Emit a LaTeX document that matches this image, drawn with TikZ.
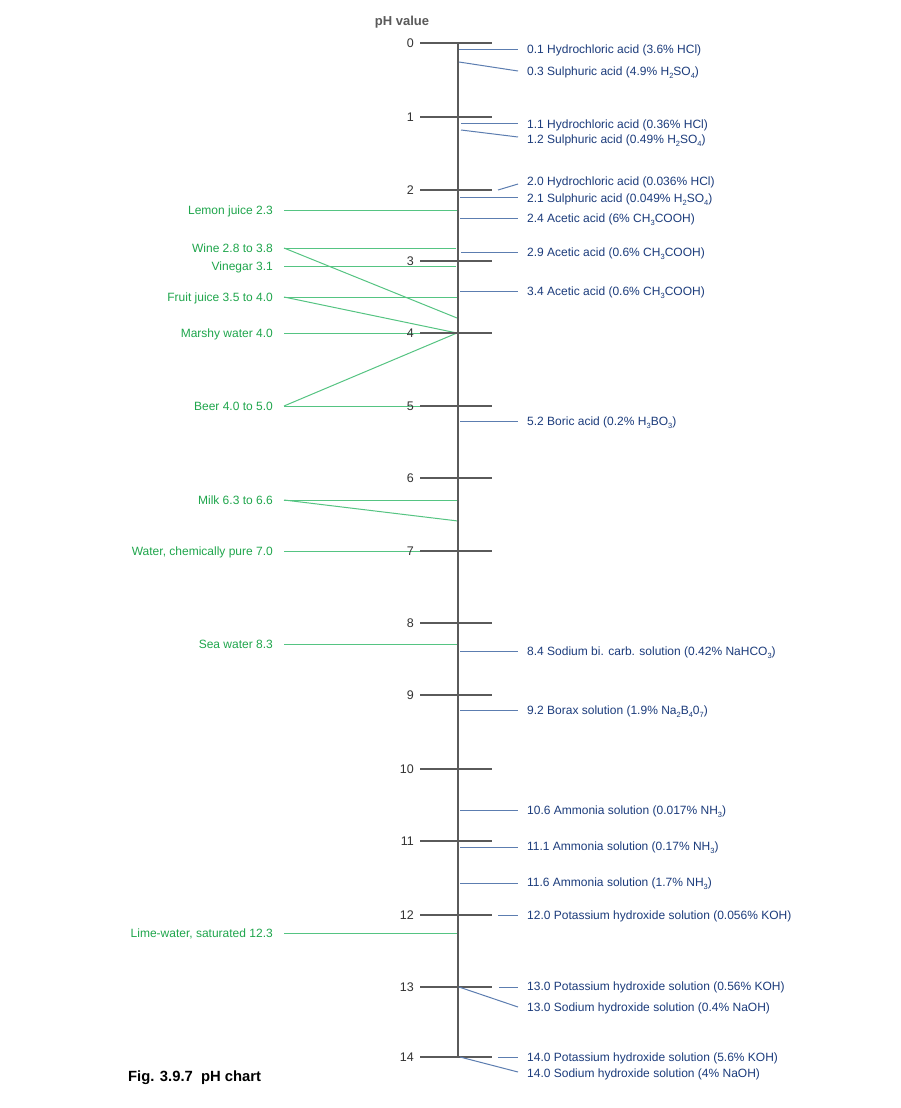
\documentclass[tikz,border=0pt]{standalone}
\usepackage{fontspec}
\setmainfont{Liberation Sans}
\definecolor{bluetxt}{HTML}{1C3C7C}
\definecolor{blueln}{HTML}{5C7DB0}
\definecolor{greentxt}{HTML}{1FA64C}
\definecolor{greenln}{HTML}{55C482}
\definecolor{axisgray}{HTML}{5A5A5A}
\definecolor{numgray}{HTML}{333333}
\newcommand\sbs[1]{\raisebox{-0.45ex}{\fontsize{7.5}{8}\selectfont #1}}
\begin{document}
\begin{tikzpicture}[x=1pt,y=-1pt,
  lab/.style={inner sep=0pt, text height=8.7pt, text depth=0pt, font=\fontsize{12}{14}\selectfont},
  acid/.style={lab, anchor=west, text=bluetxt},
  food/.style={lab, anchor=east, text=greentxt},
  num/.style={lab, anchor=east, text=numgray, font=\fontsize{12.5}{15}\selectfont},
  bline/.style={draw=blueln, line width=1pt},
  gline/.style={draw=greenln, line width=1pt},
  axisline/.style={draw=axisgray, line width=1.8pt},
  tickline/.style={draw=axisgray, line width=1.8pt}]
\useasboundingbox (0,0) rectangle (900,1108);
\fill[white] (0,0) rectangle (900,1108);

% ---------------- green (food) labels and connectors
\node[food] (lemon) at (273,210) {Lemon juice 2.3};
\node[food] (wine) at (273,248) {Wine 2.8 to 3.8};
\node[food] (vinegar) at (273,266) {Vinegar 3.1};
\node[food] (fruit) at (273,297) {Fruit juice 3.5 to 4.0};
\node[food] (marsh) at (273,333) {Marshy water 4.0};
\node[food] (beer) at (273,406) {Beer 4.0 to 5.0};
\node[food] (milk) at (273,500) {Milk 6.3 to 6.6};
\node[food] (water) at (273,551) {Water, chemically pure 7.0};
\node[food] (sea) at (273,644) {Sea water 8.3};
\node[food] (lime) at (273,933) {Lime-water, saturated 12.3};

\coordinate (gL23) at (457,210);
\coordinate (gL28) at (456,248);
\coordinate (gL38) at (457,318);
\coordinate (gL31) at (456,266);
\coordinate (gL35) at (457,297);
\coordinate (gL40) at (457,333);
\coordinate (gL50) at (457,406);
\coordinate (gL63) at (458,500);
\coordinate (gL66) at (458,521);
\coordinate (gL70) at (458,551);
\coordinate (gL83) at (457,644);
\coordinate (gL123) at (457,933);

\draw[gline] ([xshift=11pt]lemon.east) -- (gL23);
\draw[gline] ([xshift=11pt]wine.east) -- (gL28);
\draw[gline] ([xshift=11pt]wine.east) -- (gL38);
\draw[gline] ([xshift=11pt]vinegar.east) -- (gL31);
\draw[gline] ([xshift=11pt]fruit.east) -- (gL35);
\draw[gline] ([xshift=11pt]fruit.east) -- (gL40);
\draw[gline] ([xshift=11pt]marsh.east) -- (gL40);
\draw[gline] ([xshift=11pt]beer.east) -- (gL40);
\draw[gline] ([xshift=11pt]beer.east) -- (gL50);
\draw[gline] ([xshift=11pt]milk.east) -- (gL63);
\draw[gline] ([xshift=11pt]milk.east) -- (gL66);
\draw[gline] ([xshift=11pt]water.east) -- (gL70);
\draw[gline] ([xshift=11pt]sea.east) -- (gL83);
\draw[gline] ([xshift=11pt]lime.east) -- (gL123);

% ---------------- axis and ticks
\node[font=\bfseries\fontsize{13}{15}\selectfont, text=axisgray, inner sep=0pt] (title) at (402,22) {pH value};
\coordinate (top) at (458,43);
\coordinate (bottom) at (458,1057);
\draw[axisline] (top) -- (bottom);
\foreach \v/\y in {0/43,1/117,2/190,3/261,4/333,5/406,6/478,7/551,8/623,9/695,10/769,11/841,12/915,13/987,14/1057}{
  \coordinate (tl\v) at (420,\y);
  \coordinate (tr\v) at (492,\y);
  \draw[tickline] (tl\v) -- (tr\v);
  \node[num] (n\v) at (414,\y) {\v};
}

% ---------------- blue (acid/base) labels and connectors
\node[acid] (a01) at (527,49) {0.1 Hydrochloric acid (3.6\% HCl)};
\node[acid] (a03) at (527,71) {0.3 Sulphuric acid (4.9\% H\sbs{2}SO\sbs{4})};
\node[acid] (a11) at (527,124) {1.1 Hydrochloric acid (0.36\% HCl)};
\node[acid] (a12) at (527,139) {1.2 Sulphuric acid (0.49\% H\sbs{2}SO\sbs{4})};
\node[acid] (a20) at (527,181) {2.0 Hydrochloric acid (0.036\% HCl)};
\node[acid] (a21) at (527,198) {2.1 Sulphuric acid (0.049\% H\sbs{2}SO\sbs{4})};
\node[acid] (a24) at (527,218) {2.4 Acetic acid (6\% CH\sbs{3}COOH)};
\node[acid] (a29) at (527,252) {2.9 Acetic acid (0.6\% CH\sbs{3}COOH)};
\node[acid] (a34) at (527,291) {3.4 Acetic acid (0.6\% CH\sbs{3}COOH)};
\node[acid] (a52) at (527,421) {5.2 Boric acid (0.2\% H\sbs{3}BO\sbs{3})};
\node[acid] (a84) at (527,651) {8.4 Sodium bi. carb. solution (0.42\% NaHCO\sbs{3})};
\node[acid] (a92) at (527,710) {9.2 Borax solution (1.9\% Na\sbs{2}B\sbs{4}0\sbs{7})};
\node[acid] (a106) at (527,810) {10.6 Ammonia solution (0.017\% NH\sbs{3})};
\node[acid] (a111) at (527,846) {11.1 Ammonia solution (0.17\% NH\sbs{3})};
\node[acid] (a116) at (527,882) {11.6 Ammonia solution (1.7\% NH\sbs{3})};
\node[acid] (a120) at (527,915) {12.0 Potassium hydroxide solution (0.056\% KOH)};
\node[acid] (a130k) at (527,986) {13.0 Potassium hydroxide solution (0.56\% KOH)};
\node[acid] (a130n) at (527,1007) {13.0 Sodium hydroxide solution (0.4\% NaOH)};
\node[acid] (a140k) at (527,1057) {14.0 Potassium hydroxide solution (5.6\% KOH)};
\node[acid] (a140n) at (527,1073) {14.0 Sodium hydroxide solution (4\% NaOH)};

\coordinate (b01) at (459,50);
\coordinate (b03) at (459,62);
\coordinate (b11) at (461,123);
\coordinate (b12) at (461,130);
\coordinate (b20) at (498,190);
\coordinate (b21) at (460,197);
\coordinate (b24) at (460,218);
\coordinate (b29) at (461,252);
\coordinate (b34) at (460,291);
\coordinate (b52) at (460,421);
\coordinate (b84) at (460,651);
\coordinate (b92) at (460,710);
\coordinate (b106) at (460,810);
\coordinate (b111) at (460,847);
\coordinate (b116) at (460,883);
\coordinate (b120) at (498,915);
\coordinate (b130k) at (499,987);
\coordinate (b130n) at (459,987);
\coordinate (b140k) at (498,1057);
\coordinate (b140n) at (460,1057);

\draw[bline] (b01) -- ([xshift=-9pt]a01.west |- b01);
\draw[bline] (b03) -- ([xshift=-9pt]a03.west);
\draw[bline] (b11) -- ([xshift=-9pt]a11.west |- b11);
\draw[bline] (b12) -- ([xshift=-9pt,yshift=2pt]a12.west);
\draw[bline] (b20) -- ([xshift=-9pt,yshift=-3pt]a20.west);
\draw[bline] (b21) -- ([xshift=-9pt]a21.west |- b21);
\draw[bline] (b24) -- ([xshift=-9pt]a24.west);
\draw[bline] (b29) -- ([xshift=-9pt]a29.west);
\draw[bline] (b34) -- ([xshift=-9pt]a34.west);
\draw[bline] (b52) -- ([xshift=-9pt]a52.west);
\draw[bline] (b84) -- ([xshift=-9pt]a84.west);
\draw[bline] (b92) -- ([xshift=-9pt]a92.west);
\draw[bline] (b106) -- ([xshift=-9pt]a106.west);
\draw[bline] (b111) -- ([xshift=-9pt]a111.west |- b111);
\draw[bline] (b116) -- ([xshift=-9pt]a116.west |- b116);
\draw[bline] (b120) -- ([xshift=-9pt]a120.west);
\draw[bline] (b130k) -- ([xshift=-9pt]a130k.west |- b130k);
\draw[bline] (b130n) -- ([xshift=-9pt]a130n.west);
\draw[bline] (b140k) -- ([xshift=-9pt]a140k.west);
\draw[bline] (b140n) -- ([xshift=-9pt,yshift=1pt]a140n.west);

% ---------------- caption
\node[font=\bfseries\fontsize{14.8}{17}\selectfont, anchor=west, inner sep=0pt] (cap) at (128,1078) {Fig. 3.9.7\ \ pH chart};
\end{tikzpicture}
\end{document}
